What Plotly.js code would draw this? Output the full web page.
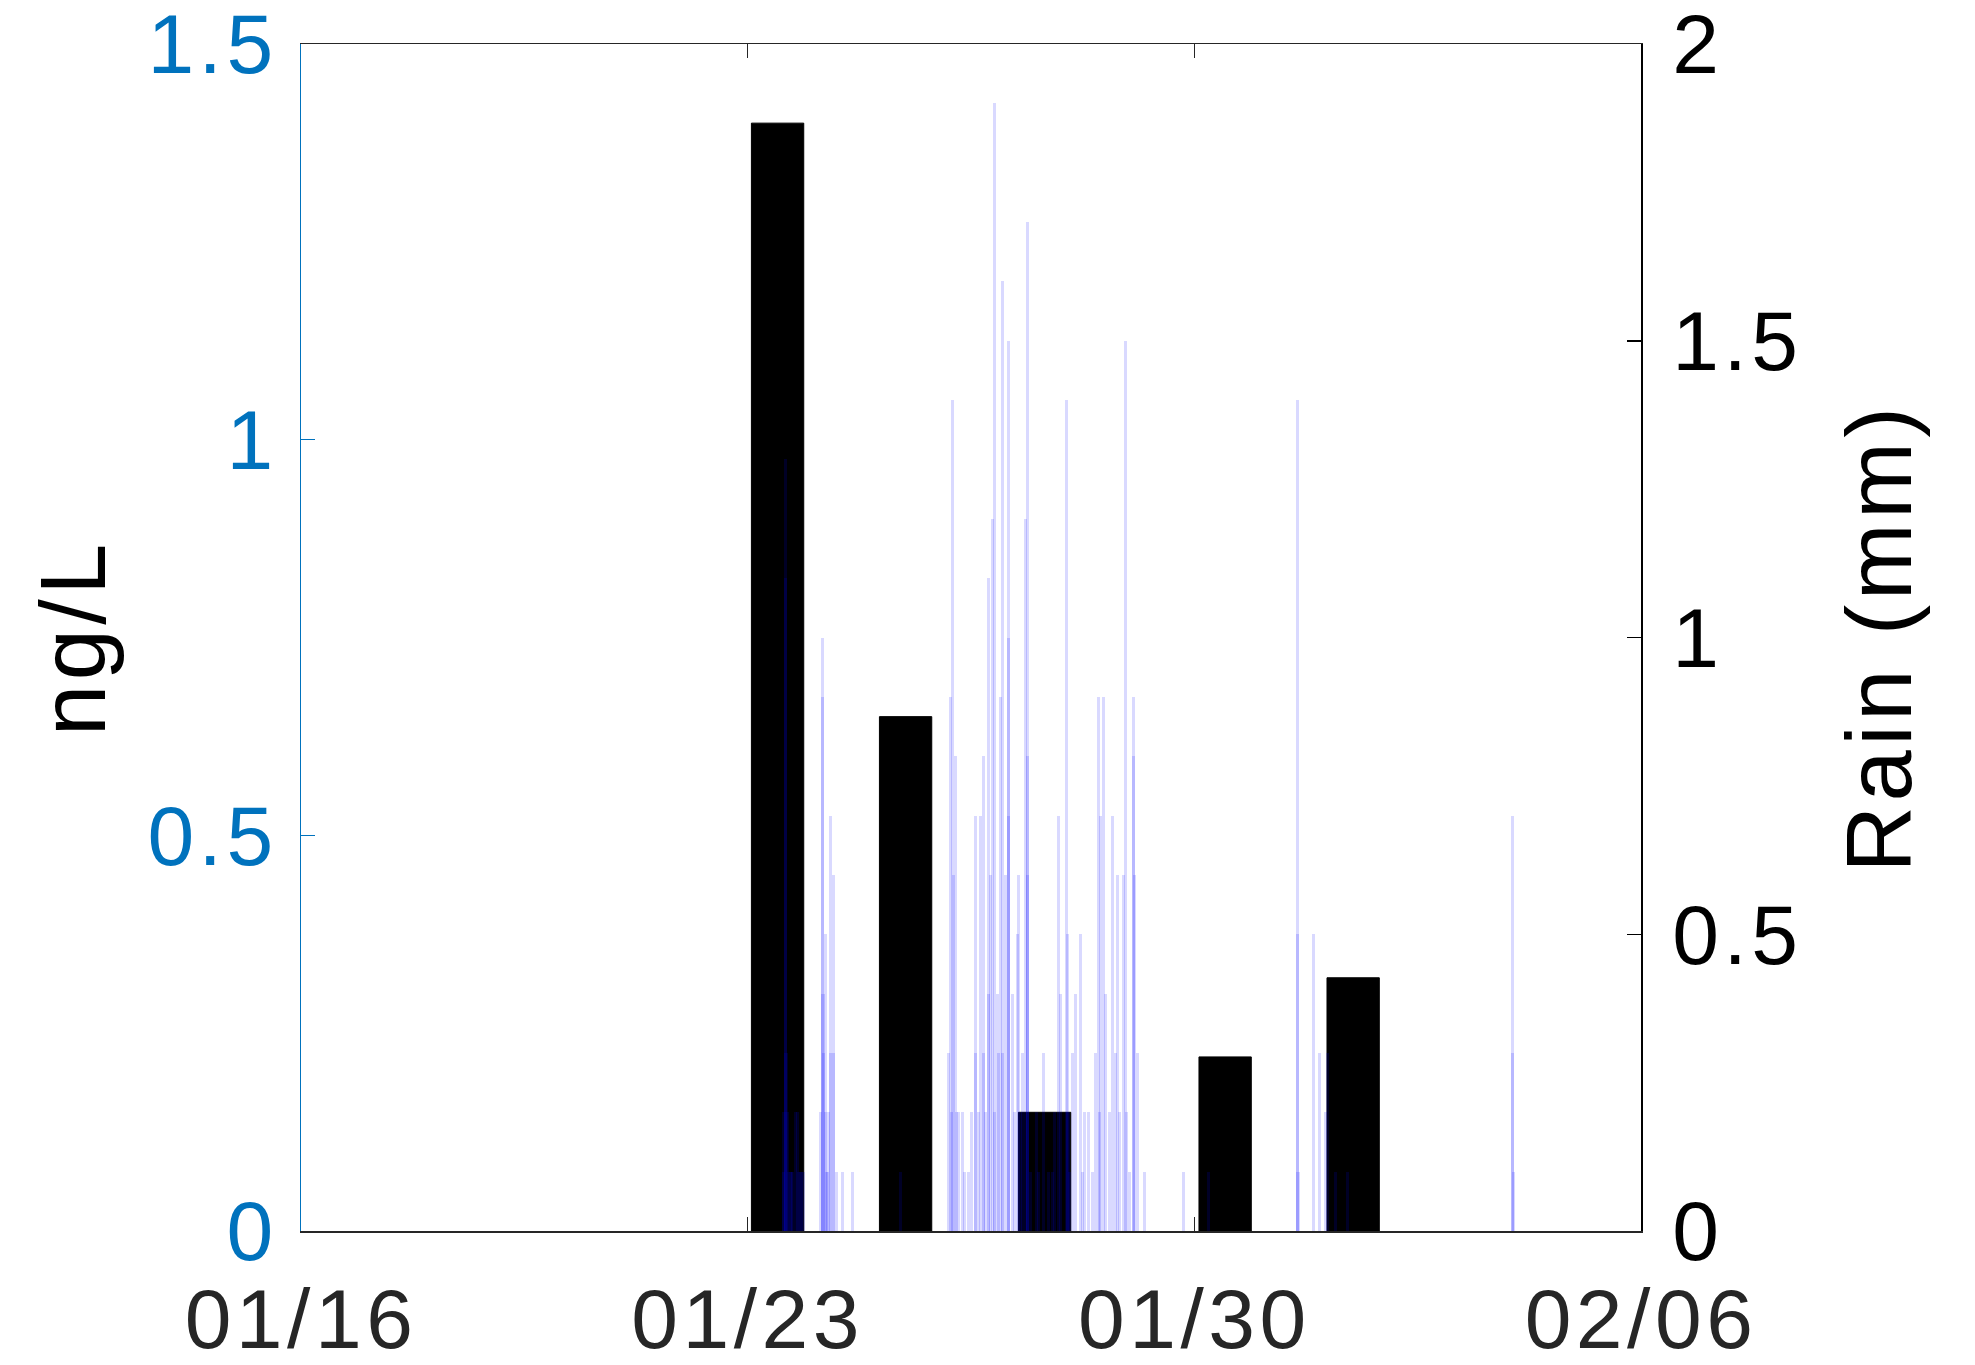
<!DOCTYPE html>
<html><head><meta charset="utf-8">
<script src="https://cdn.plot.ly/plotly-3.0.1.min.js"></script>
<style>
html,body{margin:0;padding:0;background:#fff}
#chart text{letter-spacing:4.5px}
</style>
</head><body><div id="chart" style="width:1975px;height:1365px"></div>
<script>
// Concentration samples (ng/L), left axis
const sampleDates = ['2019-01-23 11:15','2019-01-25 11:24','2019-01-27 15:41','2019-01-30 11:35','2019-02-01 11:44'];
const concNgL = [1.40, 0.65, 0.15, 0.22, 0.32];

// Rain record (mm), right axis
const rainTimes = [
 '2019-01-23 13:19','2019-01-23 13:40','2019-01-23 14:04','2019-01-23 14:15','2019-01-23 14:25','2019-01-23 14:49',
 '2019-01-23 15:20','2019-01-23 15:57','2019-01-23 16:30','2019-01-23 17:00','2019-01-23 17:50','2019-01-23 18:35',
 '2019-01-23 19:10','2019-01-23 19:43','2019-01-23 20:15','2019-01-23 20:50',
 '2019-01-24 03:14','2019-01-24 03:59','2019-01-24 04:10','2019-01-24 04:20','2019-01-24 04:30','2019-01-24 05:07',
 '2019-01-24 05:20','2019-01-24 05:45','2019-01-24 06:00','2019-01-24 06:30','2019-01-24 07:00','2019-01-24 07:15',
 '2019-01-24 08:07','2019-01-24 08:20','2019-01-24 09:15','2019-01-24 11:31','2019-01-24 15:16',
 '2019-01-25 09:20',
 '2019-01-26 03:23','2019-01-26 04:08','2019-01-26 04:30','2019-01-26 04:53','2019-01-26 05:20','2019-01-26 06:01',
 '2019-01-26 06:30','2019-01-26 07:09','2019-01-26 08:39','2019-01-26 09:30','2019-01-26 11:00','2019-01-26 12:20',
 '2019-01-26 13:32','2019-01-26 13:50','2019-01-26 14:40','2019-01-26 15:30','2019-01-26 16:33','2019-01-26 16:45',
 '2019-01-26 17:30','2019-01-26 18:26','2019-01-26 18:40','2019-01-26 19:30','2019-01-26 19:56','2019-01-26 20:41',
 '2019-01-26 20:55','2019-01-26 21:49','2019-01-26 22:20','2019-01-26 22:57','2019-01-26 23:42','2019-01-26 23:55',
 '2019-01-27 00:50','2019-01-27 01:57','2019-01-27 02:05','2019-01-27 02:15','2019-01-27 03:28','2019-01-27 04:20',
 '2019-01-27 05:20','2019-01-27 05:43','2019-01-27 06:30','2019-01-27 07:30','2019-01-27 08:21','2019-01-27 09:06',
 '2019-01-27 09:15','2019-01-27 09:25','2019-01-27 10:30','2019-01-27 12:30','2019-01-27 13:30','2019-01-27 15:07',
 '2019-01-27 17:00','2019-01-27 18:45','2019-01-27 19:30','2019-01-27 20:46','2019-01-27 21:31','2019-01-27 23:46',
 '2019-01-28 00:09','2019-01-28 00:30','2019-01-28 01:10','2019-01-28 02:02','2019-01-28 03:09','2019-01-28 05:02',
 '2019-01-28 05:47','2019-01-28 06:40','2019-01-28 08:03','2019-01-28 09:33','2019-01-28 10:40','2019-01-28 11:49',
 '2019-01-28 12:10','2019-01-28 12:34','2019-01-28 13:42','2019-01-28 14:27','2019-01-28 16:00','2019-01-28 17:05',
 '2019-01-28 18:12','2019-01-28 18:58','2019-01-28 20:00','2019-01-28 21:13','2019-01-28 21:58','2019-01-28 22:20',
 '2019-01-28 23:30','2019-01-29 00:59','2019-01-29 01:10','2019-01-29 01:20','2019-01-29 02:29','2019-01-29 05:07',
 '2019-01-29 19:47','2019-01-30 05:11',
 '2019-01-31 14:40','2019-01-31 14:50','2019-01-31 15:00','2019-01-31 20:41','2019-01-31 22:56','2019-02-01 01:12',
 '2019-02-01 01:57','2019-02-01 04:58','2019-02-01 09:29',
 '2019-02-03 23:33','2019-02-03 23:45','2019-02-03 23:55'
];
const rainMM = [
 0.1,0.2,1.3,1.1,0.3,0.2,
 0.1,0.1,0.1,0.1,0.2,0.2,
 0.1,0.1,0.1,0.1,
 0.2,1.0,0.9,0.4,0.3,0.5,
 0.2,0.1,0.1,0.2,0.7,0.3,
 0.6,0.3,0.1,0.1,0.1,
 0.1,
 0.3,0.9,0.2,1.4,0.6,0.8,
 0.2,0.2,0.2,0.1,0.1,0.2,
 0.7,0.3,0.2,0.7,0.8,0.3,
 0.2,1.1,0.4,0.6,1.2,1.9,
 0.2,0.4,0.3,0.9,1.6,0.3,
 0.6,1.5,1.0,0.7,0.4,0.2,
 0.5,0.6,0.2,0.3,1.2,1.7,
 0.8,0.6,0.1,0.2,0.1,0.3,
 0.1,0.1,0.2,0.7,0.4,1.4,
 0.5,0.2,0.1,0.3,0.4,0.5,
 0.1,0.2,0.2,0.1,0.3,0.9,
 0.2,0.7,0.9,0.4,0.2,0.7,
 0.3,0.6,0.2,0.6,1.5,0.2,
 0.1,0.9,0.8,0.6,0.3,0.1,
 0.1,0.1,
 1.4,0.5,0.1,0.5,0.3,0.2,
 0.3,0.1,0.1,
 0.7,0.3,0.1
];

const xTickVals = ['2019-01-16','2019-01-23','2019-01-30','2019-02-06'];
const xTickText = ['01/16','01/23','01/30','02/06'];
const leftTicks = [0, 0.5, 1, 1.5];
const rightTicks = [0, 0.5, 1, 1.5, 2];

const FONT = 'Liberation Sans, Arial, Helvetica, sans-serif';
const FS = 84;
const FT = 92;
const BLUE = '#0072BD';
const DAY = 86400000;

const traces = [
  {
    type: 'bar', x: sampleDates, y: concNgL, yaxis: 'y', xaxis: 'x',
    width: sampleDates.map(() => 0.82 * DAY),
    marker: {color: '#000000', line: {color: '#000000', width: 1}},
    hoverinfo: 'x+y', showlegend: false
  },
  {
    type: 'bar', x: rainTimes, y: rainMM, yaxis: 'y2', xaxis: 'x',
    width: rainTimes.map(() => 4.2e6),
    marker: {color: 'rgba(0,0,255,0.15)', line: {width: 0}},
    hoverinfo: 'x+y', showlegend: false
  }
];

const layout = {
  width: 1975, height: 1365,
  margin: {l: 301, r: 334, t: 44, b: 134, pad: 0},
  paper_bgcolor: '#ffffff', plot_bgcolor: '#ffffff',
  barmode: 'overlay', bargap: 0,
  font: {family: FONT, size: FS, color: '#262626'},
  showlegend: false,
  xaxis: {
    type: 'date', range: ['2019-01-16', '2019-02-06'],
    tickvals: xTickVals, ticktext: xTickText,
    ticks: 'inside', ticklen: 14, tickwidth: 1.5, tickcolor: '#262626',
    showline: true, linecolor: '#262626', linewidth: 1.5, mirror: 'ticks',
    showgrid: false, zeroline: false,
    tickfont: {family: FONT, size: FS, color: '#262626'},
    ticklabelstandoff: 15, ticklabeloverflow: 'allow'
  },
  yaxis: {
    range: [0, 1.5], tickvals: leftTicks,
    ticks: 'inside', ticklen: 14, tickwidth: 1.5, tickcolor: BLUE,
    showline: true, linecolor: BLUE, linewidth: 1.5,
    showgrid: false, zeroline: false,
    tickfont: {family: FONT, size: FS, color: BLUE},
    ticklabelstandoff: 5, ticklabeloverflow: 'allow',
    title: {text: 'ng/L', font: {family: FONT, size: FT, color: '#000000'}, standoff: 24}
  },
  yaxis2: {
    range: [0, 2], tickvals: rightTicks, overlaying: 'y', side: 'right',
    ticks: 'inside', ticklen: 14, tickwidth: 1.5, tickcolor: '#000000',
    showline: true, linecolor: '#000000', linewidth: 1.5,
    showgrid: false, zeroline: false,
    tickfont: {family: FONT, size: FS, color: '#000000'},
    ticklabelstandoff: 13, ticklabeloverflow: 'allow',
    title: {text: 'Rain (mm)', font: {family: FONT, size: FT, color: '#000000'}, standoff: 58}
  }
};

Plotly.newPlot('chart', traces, layout, {displayModeBar: false, staticPlot: true});
</script>
</body></html>
